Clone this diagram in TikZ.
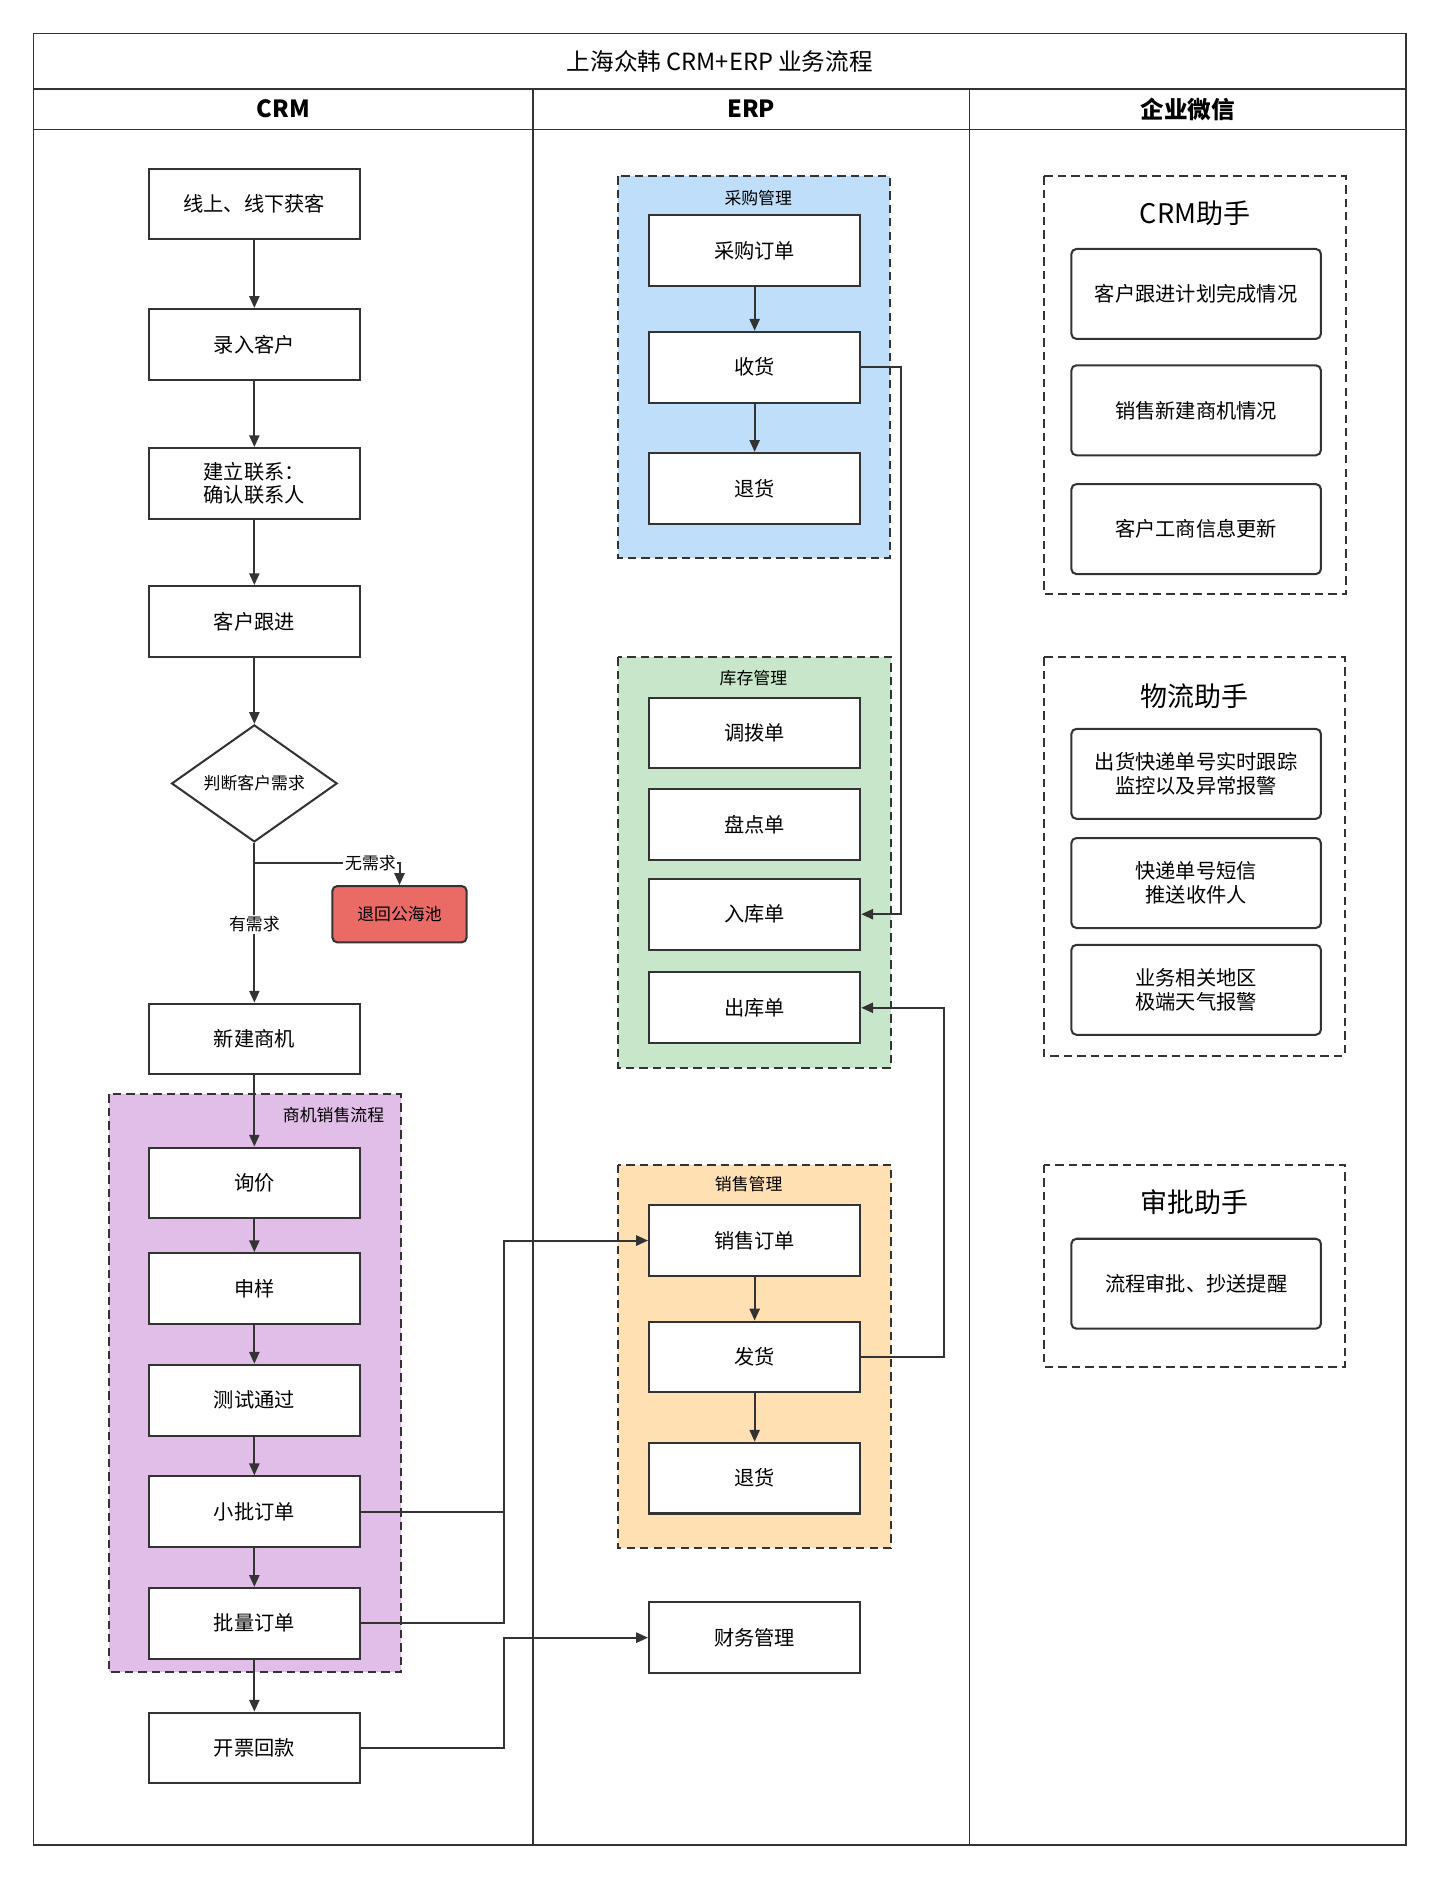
\documentclass[tikz,border=0pt]{standalone}
\usepackage{fontspec}
\setmainfont{Noto Sans CJK SC}
\usetikzlibrary{shapes.geometric,arrows.meta}
\definecolor{lc}{HTML}{333333}
\begin{document}
\begin{tikzpicture}[x=0.025cm,y=-0.025cm,
 box/.style={draw=lc,line width=1.2pt,fill=white,minimum width=176*0.025cm,minimum height=59*0.025cm,font=\fontsize{12}{14}\selectfont,align=center,inner sep=0},
 wbox/.style={box,rounded corners=3pt,minimum width=208*0.025cm,minimum height=75*0.025cm},
 grp/.style={draw=lc,line width=1.2pt,dash pattern=on 5pt off 3pt},
 glab/.style={font=\fontsize{10}{12}\selectfont},
 wt/.style={font=\fontsize{16}{18}\selectfont},
 ar/.style={draw=lc,line width=1.2pt,-{Triangle[length=7pt,width=6pt]}},
 ln/.style={draw=lc,line width=1.2pt},
 hd/.style={font=\bfseries\fontsize{14}{16}\selectfont}]
\useasboundingbox (0,0) rectangle (1200,1567);
\fill[white] (0,0) rectangle (1200,1567);
% frame
\draw[lc,line width=1pt] (28,28) rectangle (1172,1538);
\draw[lc,line width=1pt] (28,74) -- (1172,74) (28,108) -- (1172,108) (444,74) -- (444,1538) (808,74) -- (808,1538);
\node[font=\fontsize{14}{16}\selectfont] (title) at (600,51) {上海众韩 CRM+ERP 业务流程};
\node[hd] (h1) at (236,91) {CRM};
\node[hd] (h2) at (626,91) {ERP};
\node[hd] (h3) at (990,91) {企业微信};
% groups
\draw[grp,fill={rgb,255:red,225;green,190;blue,231}] (91,912) rectangle (334,1394);
\node[glab] (g1) at (278,929) {商机销售流程};
\draw[grp,fill={rgb,255:red,190;green,222;blue,250}] (515,147) rectangle (742,465);
\node[glab] (g2) at (632,165) {采购管理};
\draw[grp,fill={rgb,255:red,200;green,230;blue,201}] (515,548) rectangle (743,890);
\node[glab] (g3) at (628,565) {库存管理};
\draw[grp,fill={rgb,255:red,255;green,224;blue,178}] (515,971) rectangle (743,1290);
\node[glab] (g4) at (624,987) {销售管理};
\draw[grp] (870,147) rectangle (1122,495);
\draw[grp] (870,548) rectangle (1121,880);
\draw[grp] (870,971) rectangle (1121,1139);
% CRM
\node[box] (c1) at (212,170) {线上、线下获客};
\node[box] (c2) at (212,287) {录入客户};
\node[box] (c3) at (212,403) {建立联系：\\确认联系人};
\node[box] (c4) at (212,518) {客户跟进};
\node[draw=lc,line width=1.2pt,diamond,fill=white,minimum width=138*0.025cm,minimum height=90*0.025cm,inner sep=0,font=\fontsize{10}{12}\selectfont] (d) at (212,653) {判断客户需求};
\node[box,fill={rgb,255:red,234;green,107;blue,102},rounded corners=3pt,minimum width=112*0.025cm,minimum height=47*0.025cm,font=\fontsize{10}{12}\selectfont] (red) at (333,762) {退回公海池};
\node[box] (c5) at (212,866) {新建商机};
\node[box] (c6) at (212,986) {询价};
\node[box] (c7) at (212,1074) {申样};
\node[box] (c8) at (212,1167) {测试通过};
\node[box] (c9) at (212,1260) {小批订单};
\node[box] (c10) at (212,1353) {批量订单};
\node[box] (c11) at (212,1457) {开票回款};
\draw[ar] (c1) -- (c2);
\draw[ar] (c2) -- (c3);
\draw[ar] (c3) -- (c4);
\draw[ar] (c4) -- (d);
\coordinate (b1) at (212,719);
\draw[ar] (d.south) -- (c5.north) node[pos=0.51,fill=white,inner sep=1pt,font=\fontsize{10}{12}\selectfont] {有需求};
\draw[ar] (b1) -| (red.north) node[pos=0.4,fill=white,inner sep=1pt,font=\fontsize{10}{12}\selectfont] {无需求};
\draw[ar] (c5) -- (c6);
\draw[ar] (c6) -- (c7);
\draw[ar] (c7) -- (c8);
\draw[ar] (c8) -- (c9);
\draw[ar] (c9) -- (c10);
\draw[ar] (c10) -- (c11);
% ERP
\node[box] (e1) at (629,209) {采购订单};
\node[box] (e2) at (629,306) {收货};
\node[box] (e3) at (629,407) {退货};
\node[box] (e4) at (629,611) {调拨单};
\node[box] (e5) at (629,687) {盘点单};
\node[box] (e6) at (629,762) {入库单};
\node[box] (e7) at (629,840) {出库单};
\node[box] (e8) at (629,1034) {销售订单};
\node[box] (e9) at (629,1131) {发货};
\node[box] (e10) at (629,1232) {退货};
\node[box] (e11) at (629,1365) {财务管理};
\draw[ar] (e1) -- (e2);
\draw[ar] (e2) -- (e3);
\draw[ar] (e8) -- (e9);
\draw[ar] (e9) -- (e10);
\draw[ar] (e2.east) -- (751,306) -- (751,762) -- (e6.east);
\draw[ar] (e9.east) -- (787,1131) -- (787,840) -- (e7.east);
\draw[ar] (c9.east) -- (420,1260) -- (420,1034) -- (e8.west);
\draw[ln] (c10.east) -- (420,1353) -- (420,1260);
\draw[ar] (c11.east) -- (420,1457) -- (420,1365) -- (e11.west);
% WeChat
\node[wt] (w1) at (996,178) {CRM助手};
\node[wbox] (w11) at (997,245) {客户跟进计划完成情况};
\node[wbox] (w12) at (997,342) {销售新建商机情况};
\node[wbox] (w13) at (997,441) {客户工商信息更新};
\node[wt] (w2) at (996,580) {物流助手};
\node[wbox] (w21) at (997,645) {出货快递单号实时跟踪\\监控以及异常报警};
\node[wbox] (w22) at (997,736) {快递单号短信\\推送收件人};
\node[wbox] (w23) at (997,825) {业务相关地区\\极端天气报警};
\node[wt] (w3) at (996,1002) {审批助手};
\node[wbox] (w31) at (997,1070) {流程审批、抄送提醒};
\end{tikzpicture}
\end{document}
